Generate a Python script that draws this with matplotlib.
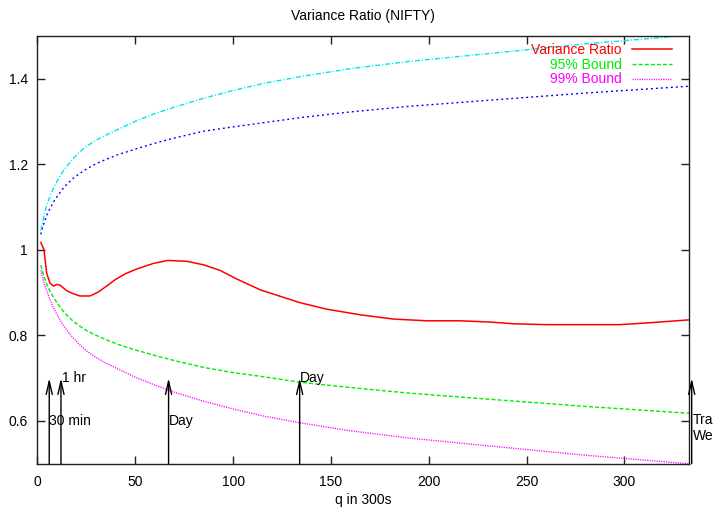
import matplotlib
matplotlib.use("Agg")
import matplotlib.pyplot as plt

plt.rcParams['font.family'] = ['Liberation Sans', 'DejaVu Sans']

# Variance ratio
vr_q = [1.7, 3.3, 4.7, 6.4, 8.2, 9.9, 11.6, 15.0, 18.4, 21.7, 26.9, 31.0, 35.0, 40.0,
        45.0, 50.7, 59.2, 66.6, 76.2, 84.7, 93.2, 101.7, 114.0, 124.2, 134.4, 148.0,
        165.0, 182.0, 199.0, 216.0, 231.4, 243.3, 260.3, 277.3, 297.7, 314.7, 332.6]
vr_val = [1.017, 1.000, 0.945, 0.922, 0.915, 0.919, 0.917, 0.904, 0.897, 0.892, 0.892,
          0.901, 0.914, 0.931, 0.944, 0.955, 0.968, 0.975, 0.973, 0.965, 0.952, 0.932,
          0.906, 0.891, 0.876, 0.861, 0.848, 0.838, 0.834, 0.834, 0.831, 0.827, 0.825,
          0.825, 0.825, 0.830, 0.836]

# Bounds
b_q = [1.7, 2.5, 3.5, 4.7, 6.0, 8.0, 10.0, 12.5, 15.0, 18.0, 21.5, 25.5, 30.0, 35.0,
       41.0, 50.0, 60.0, 70.0, 85.0, 100.0, 116.0, 135.0, 160.0, 190.0, 230.0, 280.0, 333.0]
upper99 = [1.045, 1.062, 1.082, 1.103, 1.120, 1.142, 1.160, 1.180, 1.195, 1.212, 1.228,
           1.243, 1.256, 1.268, 1.281, 1.300, 1.318, 1.333, 1.354, 1.372, 1.389, 1.405,
           1.423, 1.440, 1.458, 1.481, 1.501]
lower99 = [0.952, 0.937, 0.920, 0.905, 0.888, 0.866, 0.848, 0.828, 0.812, 0.795, 0.778,
           0.762, 0.748, 0.735, 0.722, 0.702, 0.684, 0.667, 0.646, 0.628, 0.611, 0.595,
           0.577, 0.560, 0.542, 0.520, 0.500]
upper95 = [1.036, 1.050, 1.065, 1.080, 1.093, 1.110, 1.124, 1.140, 1.153, 1.166, 1.178,
           1.190, 1.201, 1.211, 1.222, 1.235, 1.249, 1.261, 1.277, 1.287, 1.297, 1.309,
           1.322, 1.335, 1.349, 1.366, 1.382]
lower95 = [0.964, 0.950, 0.935, 0.920, 0.907, 0.890, 0.876, 0.860, 0.847, 0.834, 0.822,
           0.810, 0.800, 0.790, 0.779, 0.766, 0.753, 0.741, 0.725, 0.713, 0.703, 0.690,
           0.678, 0.665, 0.651, 0.634, 0.618]

# Annotated arrows
arrow_q = [6, 12, 67, 134, 334.4]
arrow_labels = ["30 min", "1 hr", "Day", "Day", "Tra\nWe"]
label_y = [0.6, 0.7, 0.6, 0.7, 0.583]
label_q = [6, 12.6, 67, 134, 335]

fig = plt.figure(figsize=(7.17, 5.08), dpi=100)
ax = fig.add_axes([0.0523, 0.0871, 0.9086, 0.8426])

ax.plot(vr_q, vr_val, color='#ff0000', lw=1.1, label='Variance Ratio')
ax.plot(b_q, lower95, color='#00ee00', lw=1.0, dashes=(2.9, 1.5), label='95% Bound')
ax.plot(b_q, lower99, color='#ff00ff', lw=1.0, dashes=(0.8, 0.9), label='99% Bound')
ax.plot(b_q, upper95, color='#0000ff', lw=1.0, dashes=(1.4, 2.2))
ax.plot(b_q, upper99, color='#00e5ee', lw=1.0, dashes=(3.6, 1.4, 0.8, 1.4))

for q in arrow_q:
    ax.annotate("", xy=(q, 0.7), xytext=(q, 0.5), annotation_clip=False,
                arrowprops=dict(arrowstyle='->,head_length=0.95,head_width=0.22',
                                color='black', lw=1.0, shrinkA=0, shrinkB=0))
for lq, ly, lab in zip(label_q, label_y, arrow_labels):
    ax.text(lq, ly, lab, ha='left', va='center', fontsize=10, clip_on=False,
            linespacing=1.2)

ax.set_xlim(0, 333)
ax.set_ylim(0.5, 1.5)
ax.set_xticks([0, 50, 100, 150, 200, 250, 300])
ax.set_yticks([0.6, 0.8, 1.0, 1.2, 1.4])
ax.set_yticklabels(['0.6', '0.8', '1', '1.2', '1.4'])
ax.tick_params(direction='in', top=True, right=True, length=6, width=1,
               labelsize=10, color='#222222')
ax.tick_params(axis='x', pad=8)
ax.tick_params(axis='y', pad=7)
for s in ax.spines.values():
    s.set_color('#222222')
    s.set_linewidth(1.0)

ax.set_title('Variance Ratio (NIFTY)', fontsize=10, pad=11)
ax.set_xlabel('q in 300s', fontsize=10, labelpad=3)

ax.legend(loc='upper right', bbox_to_anchor=(0.9735, 0.983), frameon=False,
          markerfirst=False, labelcolor='linecolor', fontsize=10,
          handlelength=2.88, handletextpad=0.72, borderpad=0, borderaxespad=0,
          labelspacing=0.05)

fig.savefig('out.png', dpi=100)
